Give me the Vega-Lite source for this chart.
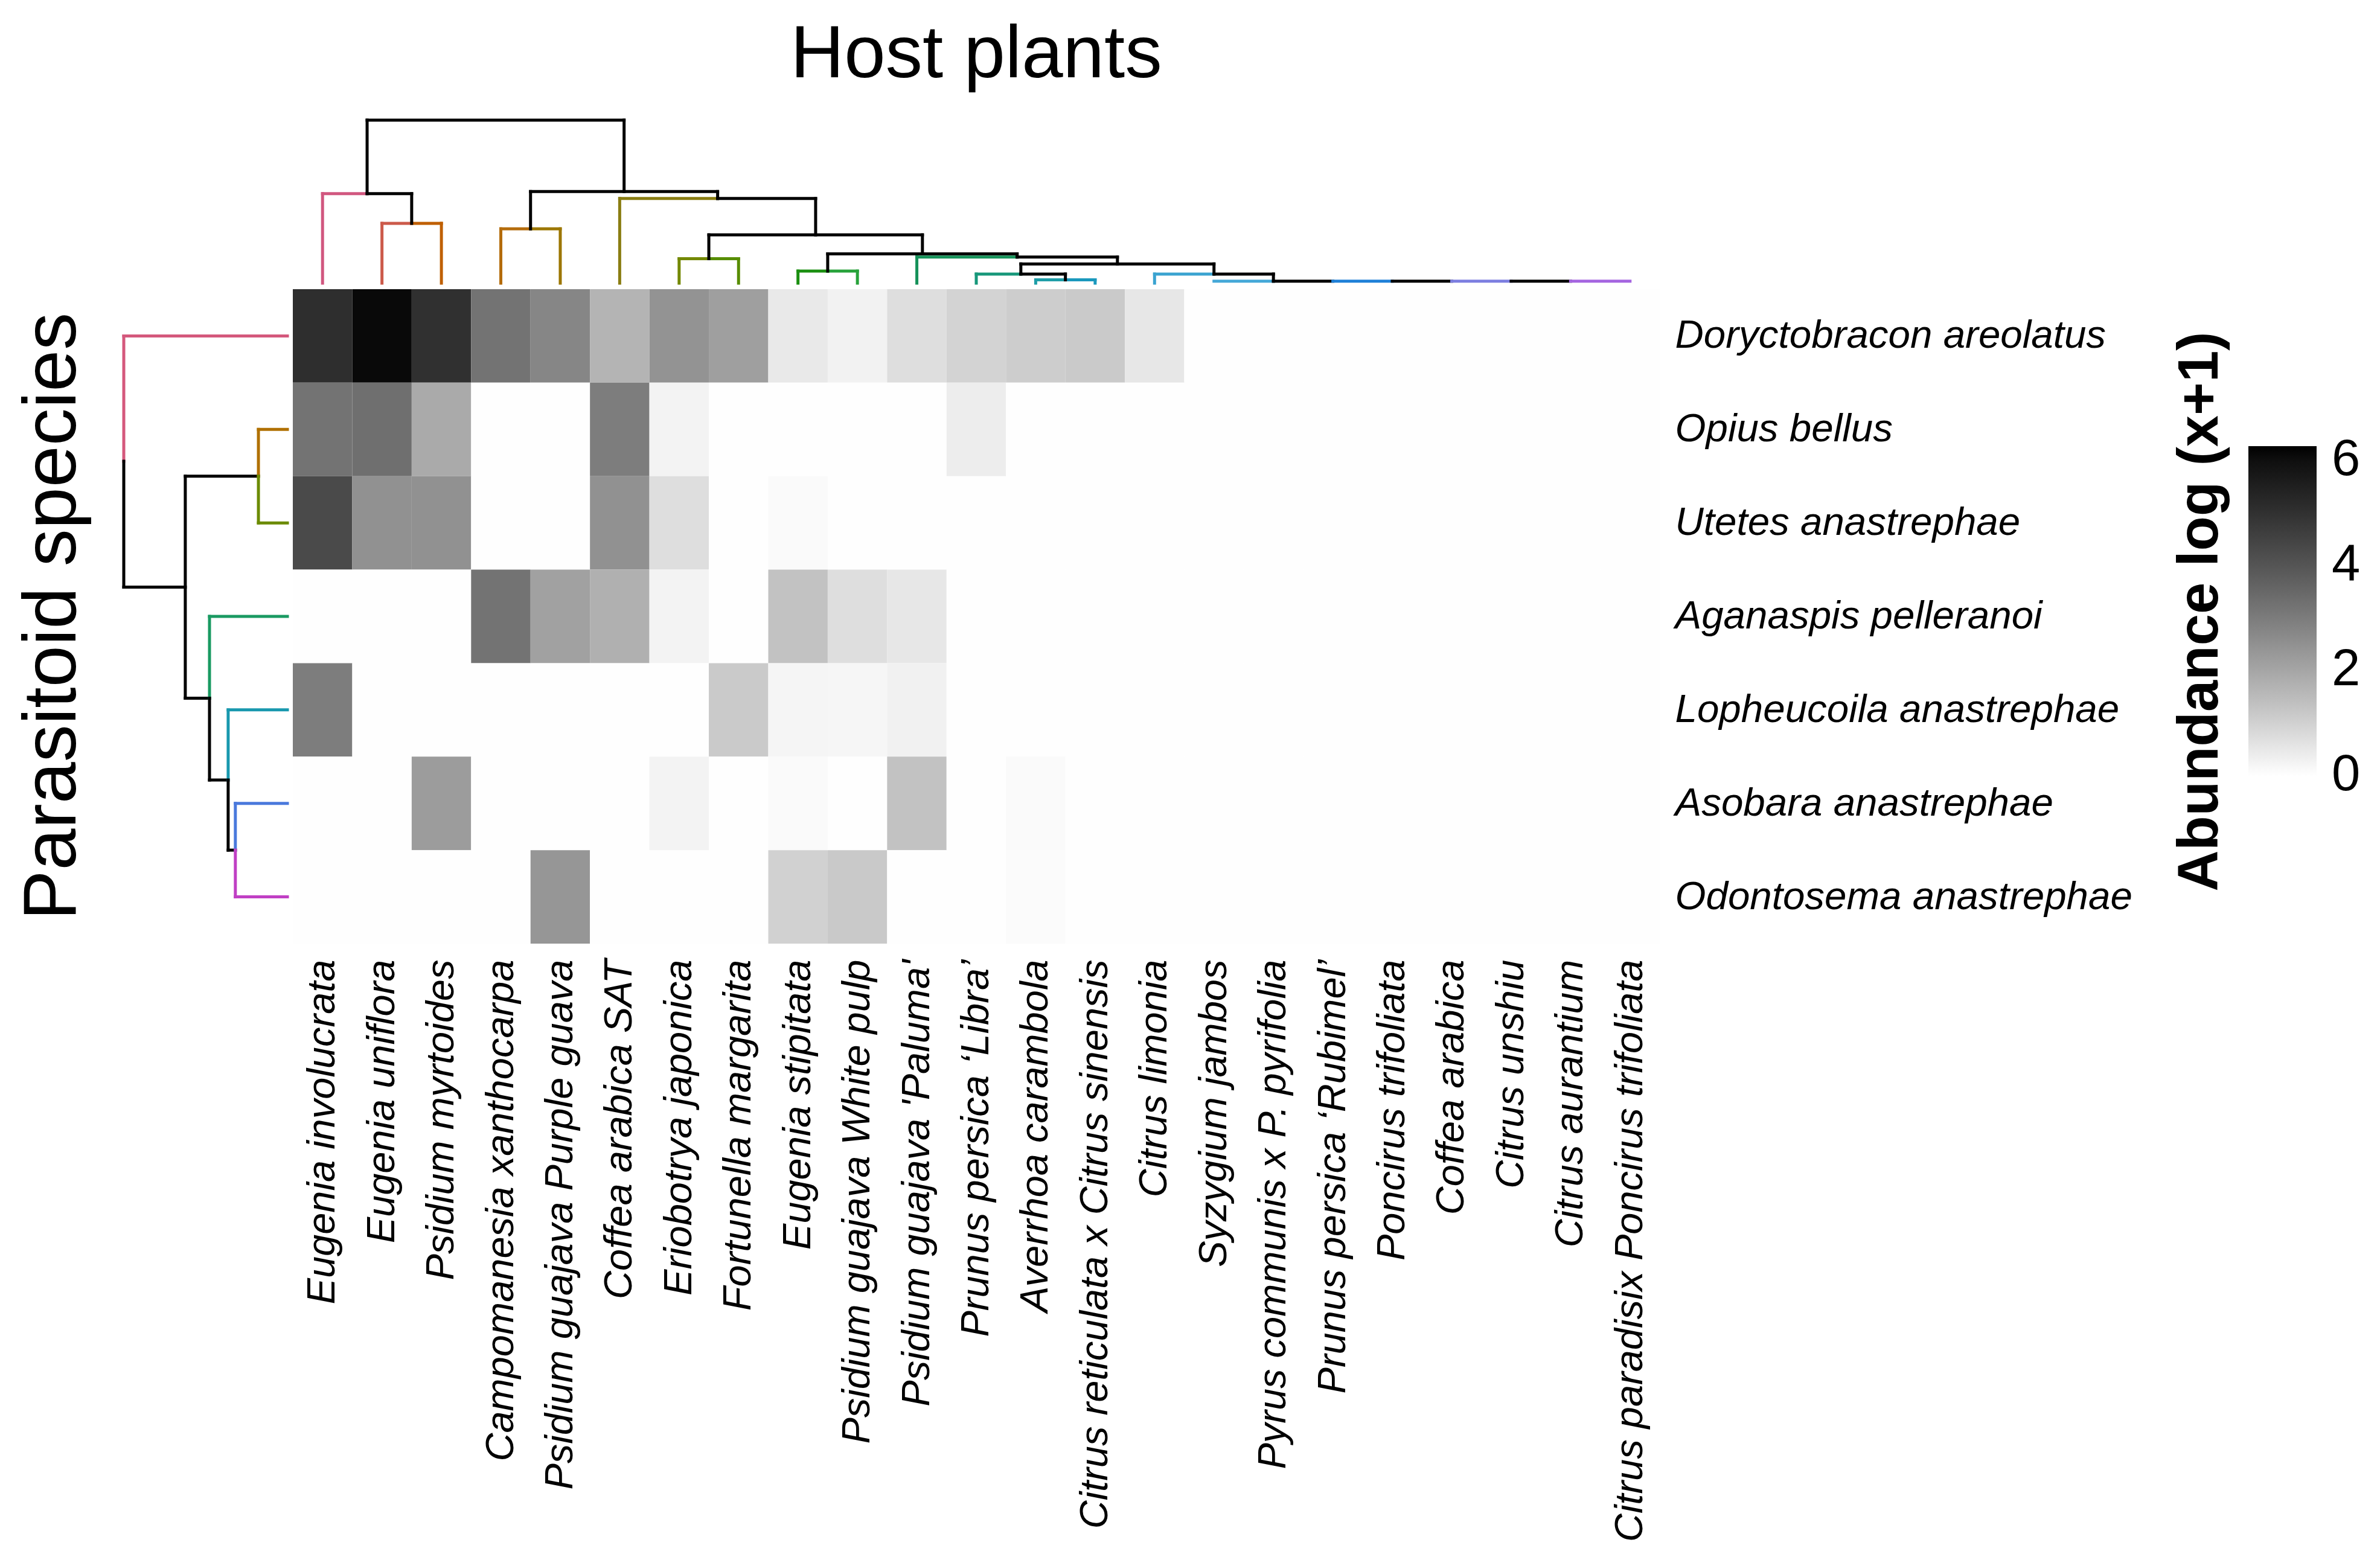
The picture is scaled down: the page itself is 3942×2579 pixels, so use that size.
{
  "$schema": "https://vega.github.io/schema/vega-lite/v6.json",
  "padding": {"left": 26, "top": 30, "right": 10, "bottom": 10},
  "background": "white",
  "config": {"view": {"stroke": null}, "font": "Liberation Sans"},
  "columns": 2,
  "spacing": {"row": 10, "column": 9},
  "bounds": "flush",
  "resolve": {"scale": {"color": "independent", "x": "independent", "y": "independent"}, "legend": {"color": "independent"}},
  "concat": [
    {
      "width": 271, "height": 270,
      "data": {"values": []},
      "mark": "point"
    },
    {
      "width": 2264, "height": 270,
      "title": {"text": "Host plants", "fontSize": 123, "font": "Liberation Sans", "fontWeight": "normal", "anchor": "middle", "offset": 41, "color": "black"},
      "data": {"values": [
        {"pos": 1.25, "pos2": 5.574, "h": 1, "h2": 1, "cluster": "joined"},
        {"pos": 0.5, "pos2": 1.25, "h": 0.549, "h2": 0.549, "cluster": "Eugenia involucrata"},
        {"pos": 1.25, "pos2": 2, "h": 0.549, "h2": 0.549, "cluster": "joined"},
        {"pos": 1.5, "pos2": 2, "h": 0.367, "h2": 0.367, "cluster": "Eugenia uniflora"},
        {"pos": 2, "pos2": 2.5, "h": 0.367, "h2": 0.367, "cluster": "Psidium myrtoides"},
        {"pos": 4, "pos2": 7.148, "h": 0.562, "h2": 0.562, "cluster": "joined"},
        {"pos": 3.5, "pos2": 4, "h": 0.333, "h2": 0.333, "cluster": "Campomanesia xanthocarpa"},
        {"pos": 4, "pos2": 4.5, "h": 0.333, "h2": 0.333, "cluster": "Psidium guajava Purple guava"},
        {"pos": 5.5, "pos2": 7.148, "h": 0.519, "h2": 0.519, "cluster": "Coffea arabica SAT"},
        {"pos": 7.148, "pos2": 8.797, "h": 0.519, "h2": 0.519, "cluster": "joined"},
        {"pos": 7, "pos2": 10.594, "h": 0.296, "h2": 0.296, "cluster": "joined"},
        {"pos": 6.5, "pos2": 7, "h": 0.15, "h2": 0.15, "cluster": "Eriobotrya japonica"},
        {"pos": 7, "pos2": 7.5, "h": 0.15, "h2": 0.15, "cluster": "Fortunella margarita"},
        {"pos": 9, "pos2": 12.1875, "h": 0.18, "h2": 0.18, "cluster": "joined"},
        {"pos": 8.5, "pos2": 9, "h": 0.074, "h2": 0.074, "cluster": "Eugenia stipitata"},
        {"pos": 9, "pos2": 9.5, "h": 0.074, "h2": 0.074, "cluster": "Psidium guajava White pulp"},
        {"pos": 10.5, "pos2": 12.1875, "h": 0.16, "h2": 0.16, "cluster": "Psidium guajava 'Paluma'"},
        {"pos": 12.1875, "pos2": 13.875, "h": 0.16, "h2": 0.16, "cluster": "joined"},
        {"pos": 12.25, "pos2": 15.5, "h": 0.118, "h2": 0.118, "cluster": "joined"},
        {"pos": 11.5, "pos2": 12.25, "h": 0.056, "h2": 0.056, "cluster": "Prunus persica ‘Libra’"},
        {"pos": 12.25, "pos2": 13, "h": 0.056, "h2": 0.056, "cluster": "joined"},
        {"pos": 12.5, "pos2": 13, "h": 0.02, "h2": 0.02, "cluster": "Averrhoa carambola"},
        {"pos": 13, "pos2": 13.5, "h": 0.02, "h2": 0.02, "cluster": "Citrus reticulata x Citrus sinensis"},
        {"pos": 14.5, "pos2": 15.5, "h": 0.056, "h2": 0.056, "cluster": "Citrus limonia"},
        {"pos": 15.5, "pos2": 16.5, "h": 0.056, "h2": 0.056, "cluster": "joined"},
        {"pos": 15.5, "pos2": 16.5, "h": 0.012, "h2": 0.012, "cluster": "Syzygium jambos"},
        {"pos": 16.5, "pos2": 17.5, "h": 0.012, "h2": 0.012, "cluster": "joined"},
        {"pos": 17.5, "pos2": 18.5, "h": 0.012, "h2": 0.012, "cluster": "Prunus persica ‘Rubimel’"},
        {"pos": 18.5, "pos2": 19.5, "h": 0.012, "h2": 0.012, "cluster": "joined"},
        {"pos": 19.5, "pos2": 20.5, "h": 0.012, "h2": 0.012, "cluster": "Citrus unshiu"},
        {"pos": 20.5, "pos2": 21.5, "h": 0.012, "h2": 0.012, "cluster": "joined"},
        {"pos": 21.5, "pos2": 22.5, "h": 0.012, "h2": 0.012, "cluster": "Citrus paradisix Poncirus trifoliata"},
        {"pos": 1.25, "pos2": 1.25, "h": 0.549, "h2": 1, "cluster": "joined"},
        {"pos": 5.574, "pos2": 5.574, "h": 0.562, "h2": 1, "cluster": "joined"},
        {"pos": 0.5, "pos2": 0.5, "h": 0, "h2": 0.549, "cluster": "Eugenia involucrata"},
        {"pos": 2, "pos2": 2, "h": 0.367, "h2": 0.549, "cluster": "joined"},
        {"pos": 1.5, "pos2": 1.5, "h": 0, "h2": 0.367, "cluster": "Eugenia uniflora"},
        {"pos": 2.5, "pos2": 2.5, "h": 0, "h2": 0.367, "cluster": "Psidium myrtoides"},
        {"pos": 4, "pos2": 4, "h": 0.333, "h2": 0.562, "cluster": "joined"},
        {"pos": 7.148, "pos2": 7.148, "h": 0.519, "h2": 0.562, "cluster": "joined"},
        {"pos": 3.5, "pos2": 3.5, "h": 0, "h2": 0.333, "cluster": "Campomanesia xanthocarpa"},
        {"pos": 4.5, "pos2": 4.5, "h": 0, "h2": 0.333, "cluster": "Psidium guajava Purple guava"},
        {"pos": 5.5, "pos2": 5.5, "h": 0, "h2": 0.519, "cluster": "Coffea arabica SAT"},
        {"pos": 8.797, "pos2": 8.797, "h": 0.296, "h2": 0.519, "cluster": "joined"},
        {"pos": 7, "pos2": 7, "h": 0.15, "h2": 0.296, "cluster": "joined"},
        {"pos": 10.594, "pos2": 10.594, "h": 0.18, "h2": 0.296, "cluster": "joined"},
        {"pos": 6.5, "pos2": 6.5, "h": 0, "h2": 0.15, "cluster": "Eriobotrya japonica"},
        {"pos": 7.5, "pos2": 7.5, "h": 0, "h2": 0.15, "cluster": "Fortunella margarita"},
        {"pos": 9, "pos2": 9, "h": 0.074, "h2": 0.18, "cluster": "joined"},
        {"pos": 12.1875, "pos2": 12.1875, "h": 0.16, "h2": 0.18, "cluster": "joined"},
        {"pos": 8.5, "pos2": 8.5, "h": 0, "h2": 0.074, "cluster": "Eugenia stipitata"},
        {"pos": 9.5, "pos2": 9.5, "h": 0, "h2": 0.074, "cluster": "Psidium guajava White pulp"},
        {"pos": 10.5, "pos2": 10.5, "h": 0, "h2": 0.16, "cluster": "Psidium guajava 'Paluma'"},
        {"pos": 13.875, "pos2": 13.875, "h": 0.118, "h2": 0.16, "cluster": "joined"},
        {"pos": 12.25, "pos2": 12.25, "h": 0.056, "h2": 0.118, "cluster": "joined"},
        {"pos": 15.5, "pos2": 15.5, "h": 0.056, "h2": 0.118, "cluster": "joined"},
        {"pos": 11.5, "pos2": 11.5, "h": 0, "h2": 0.056, "cluster": "Prunus persica ‘Libra’"},
        {"pos": 13, "pos2": 13, "h": 0.02, "h2": 0.056, "cluster": "joined"},
        {"pos": 12.5, "pos2": 12.5, "h": 0, "h2": 0.02, "cluster": "Averrhoa carambola"},
        {"pos": 13.5, "pos2": 13.5, "h": 0, "h2": 0.02, "cluster": "Citrus reticulata x Citrus sinensis"},
        {"pos": 14.5, "pos2": 14.5, "h": 0, "h2": 0.056, "cluster": "Citrus limonia"},
        {"pos": 16.5, "pos2": 16.5, "h": 0.012, "h2": 0.056, "cluster": "joined"}
      ]},
      "mark": {"type": "rule", "strokeWidth": 5, "strokeCap": "square"},
      "encoding": {
        "x": {"field": "pos", "type": "quantitative", "scale": {"domain": [0, 23], "nice": false, "zero": false}, "axis": null},
        "x2": {"field": "pos2"},
        "y": {"field": "h", "type": "quantitative", "scale": {"domain": [0, 1], "nice": false}, "axis": null},
        "y2": {"field": "h2"},
        "color": {"field": "cluster", "type": "nominal", "legend": null, "scale": {
          "domain": ["joined", "Eugenia involucrata", "Eugenia uniflora", "Psidium myrtoides", "Campomanesia xanthocarpa", "Psidium guajava Purple guava", "Coffea arabica SAT", "Eriobotrya japonica", "Fortunella margarita", "Eugenia stipitata", "Psidium guajava White pulp", "Psidium guajava 'Paluma'", "Prunus persica ‘Libra’", "Averrhoa carambola", "Citrus reticulata x Citrus sinensis", "Citrus limonia", "Syzygium jambos", "Prunus persica ‘Rubimel’", "Citrus unshiu", "Citrus paradisix Poncirus trifoliata"],
          "range": ["#000000", "#d1577f", "#cc5a4a", "#bf5f00", "#b46c0c", "#9c7600", "#8a7d12", "#738800", "#578d00", "#1a8f10", "#27a23a", "#16925a", "#17977a", "#1f9ea8", "#1a98bd", "#3aa3d0", "#45a8d8", "#1f80d8", "#7c7ee0", "#a565e0"]}}
      }
    },
    {
      "width": 271, "height": 1084,
      "title": {"text": "Parasitoid species", "orient": "left", "fontSize": 124, "font": "Liberation Sans", "fontWeight": "normal", "anchor": "middle", "offset": 50, "color": "black"},
      "data": {"values": [
        {"h": 0, "h2": 1, "pos": 0.5, "pos2": 0.5, "cluster": "Doryctobracon areolatus"},
        {"h": 0.624, "h2": 1, "pos": 3.1875, "pos2": 3.1875, "cluster": "joined"},
        {"h": 0.177, "h2": 0.624, "pos": 2, "pos2": 2, "cluster": "joined"},
        {"h": 0.476, "h2": 0.624, "pos": 4.375, "pos2": 4.375, "cluster": "joined"},
        {"h": 0, "h2": 0.177, "pos": 1.5, "pos2": 1.5, "cluster": "Opius bellus"},
        {"h": 0, "h2": 0.177, "pos": 2.5, "pos2": 2.5, "cluster": "Utetes anastrephae"},
        {"h": 0, "h2": 0.476, "pos": 3.5, "pos2": 3.5, "cluster": "Aganaspis pelleranoi"},
        {"h": 0.362, "h2": 0.476, "pos": 5.25, "pos2": 5.25, "cluster": "joined"},
        {"h": 0, "h2": 0.362, "pos": 4.5, "pos2": 4.5, "cluster": "Lopheucoila anastrephae"},
        {"h": 0.318, "h2": 0.362, "pos": 6, "pos2": 6, "cluster": "joined"},
        {"h": 0, "h2": 0.318, "pos": 5.5, "pos2": 5.5, "cluster": "Asobara anastrephae"},
        {"h": 0, "h2": 0.318, "pos": 6.5, "pos2": 6.5, "cluster": "Odontosema anastrephae"},
        {"h": 1, "h2": 1, "pos": 0.5, "pos2": 1.84, "cluster": "Doryctobracon areolatus"},
        {"h": 1, "h2": 1, "pos": 1.84, "pos2": 3.1875, "cluster": "joined"},
        {"h": 0.624, "h2": 0.624, "pos": 2, "pos2": 4.375, "cluster": "joined"},
        {"h": 0.177, "h2": 0.177, "pos": 1.5, "pos2": 2, "cluster": "Opius bellus"},
        {"h": 0.177, "h2": 0.177, "pos": 2, "pos2": 2.5, "cluster": "Utetes anastrephae"},
        {"h": 0.476, "h2": 0.476, "pos": 3.5, "pos2": 4.375, "cluster": "Aganaspis pelleranoi"},
        {"h": 0.476, "h2": 0.476, "pos": 4.375, "pos2": 5.25, "cluster": "joined"},
        {"h": 0.362, "h2": 0.362, "pos": 4.5, "pos2": 5.25, "cluster": "Lopheucoila anastrephae"},
        {"h": 0.362, "h2": 0.362, "pos": 5.25, "pos2": 6, "cluster": "joined"},
        {"h": 0.318, "h2": 0.318, "pos": 5.5, "pos2": 6, "cluster": "Asobara anastrephae"},
        {"h": 0.318, "h2": 0.318, "pos": 6, "pos2": 6.5, "cluster": "Odontosema anastrephae"}
      ]},
      "mark": {"type": "rule", "strokeWidth": 5, "strokeCap": "square"},
      "encoding": {
        "x": {"field": "h", "type": "quantitative", "scale": {"domain": [0, 1], "nice": false, "reverse": true}, "axis": null},
        "x2": {"field": "h2"},
        "y": {"field": "pos", "type": "quantitative", "scale": {"domain": [0, 7], "nice": false, "zero": false, "reverse": true}, "axis": null},
        "y2": {"field": "pos2"},
        "color": {"field": "cluster", "type": "nominal", "legend": null, "scale": {
          "domain": ["joined", "Doryctobracon areolatus", "Opius bellus", "Utetes anastrephae", "Aganaspis pelleranoi", "Lopheucoila anastrephae", "Asobara anastrephae", "Odontosema anastrephae"],
          "range": ["#000000", "#d4587c", "#b07000", "#6b8b00", "#1a9a62", "#1898ae", "#4a79dc", "#c03fc4"]}}
      }
    },
    {
      "width": 2264, "height": 1084,
      "data": {"values": [
        {"host": "Eugenia involucrata", "species": "Doryctobracon areolatus", "abundance": 5.05},
        {"host": "Eugenia uniflora", "species": "Doryctobracon areolatus", "abundance": 6.1},
        {"host": "Psidium myrtoides", "species": "Doryctobracon areolatus", "abundance": 5.0},
        {"host": "Campomanesia xanthocarpa", "species": "Doryctobracon areolatus", "abundance": 3.22},
        {"host": "Psidium guajava Purple guava", "species": "Doryctobracon areolatus", "abundance": 2.73},
        {"host": "Coffea arabica SAT", "species": "Doryctobracon areolatus", "abundance": 1.65},
        {"host": "Eriobotrya japonica", "species": "Doryctobracon areolatus", "abundance": 2.42},
        {"host": "Fortunella margarita", "species": "Doryctobracon areolatus", "abundance": 2.13},
        {"host": "Eugenia stipitata", "species": "Doryctobracon areolatus", "abundance": 0.45},
        {"host": "Psidium guajava White pulp", "species": "Doryctobracon areolatus", "abundance": 0.25},
        {"host": "Psidium guajava 'Paluma'", "species": "Doryctobracon areolatus", "abundance": 0.7},
        {"host": "Prunus persica ‘Libra’", "species": "Doryctobracon areolatus", "abundance": 0.95},
        {"host": "Averrhoa carambola", "species": "Doryctobracon areolatus", "abundance": 1.08},
        {"host": "Citrus reticulata x Citrus sinensis", "species": "Doryctobracon areolatus", "abundance": 1.15},
        {"host": "Citrus limonia", "species": "Doryctobracon areolatus", "abundance": 0.5},
        {"host": "Syzygium jambos", "species": "Doryctobracon areolatus", "abundance": 0},
        {"host": "Pyrus communis x P. pyrifolia", "species": "Doryctobracon areolatus", "abundance": 0},
        {"host": "Prunus persica ‘Rubimel’", "species": "Doryctobracon areolatus", "abundance": 0},
        {"host": "Poncirus trifoliata", "species": "Doryctobracon areolatus", "abundance": 0},
        {"host": "Coffea arabica", "species": "Doryctobracon areolatus", "abundance": 0},
        {"host": "Citrus unshiu", "species": "Doryctobracon areolatus", "abundance": 0},
        {"host": "Citrus aurantium", "species": "Doryctobracon areolatus", "abundance": 0},
        {"host": "Citrus paradisix Poncirus trifoliata", "species": "Doryctobracon areolatus", "abundance": 0},
        {"host": "Eugenia involucrata", "species": "Opius bellus", "abundance": 3.22},
        {"host": "Eugenia uniflora", "species": "Opius bellus", "abundance": 3.3},
        {"host": "Psidium myrtoides", "species": "Opius bellus", "abundance": 1.87},
        {"host": "Campomanesia xanthocarpa", "species": "Opius bellus", "abundance": 0},
        {"host": "Psidium guajava Purple guava", "species": "Opius bellus", "abundance": 0},
        {"host": "Coffea arabica SAT", "species": "Opius bellus", "abundance": 2.95},
        {"host": "Eriobotrya japonica", "species": "Opius bellus", "abundance": 0.23},
        {"host": "Fortunella margarita", "species": "Opius bellus", "abundance": 0},
        {"host": "Eugenia stipitata", "species": "Opius bellus", "abundance": 0},
        {"host": "Psidium guajava White pulp", "species": "Opius bellus", "abundance": 0},
        {"host": "Psidium guajava 'Paluma'", "species": "Opius bellus", "abundance": 0},
        {"host": "Prunus persica ‘Libra’", "species": "Opius bellus", "abundance": 0.37},
        {"host": "Averrhoa carambola", "species": "Opius bellus", "abundance": 0},
        {"host": "Citrus reticulata x Citrus sinensis", "species": "Opius bellus", "abundance": 0},
        {"host": "Citrus limonia", "species": "Opius bellus", "abundance": 0},
        {"host": "Syzygium jambos", "species": "Opius bellus", "abundance": 0},
        {"host": "Pyrus communis x P. pyrifolia", "species": "Opius bellus", "abundance": 0},
        {"host": "Prunus persica ‘Rubimel’", "species": "Opius bellus", "abundance": 0},
        {"host": "Poncirus trifoliata", "species": "Opius bellus", "abundance": 0},
        {"host": "Coffea arabica", "species": "Opius bellus", "abundance": 0},
        {"host": "Citrus unshiu", "species": "Opius bellus", "abundance": 0},
        {"host": "Citrus aurantium", "species": "Opius bellus", "abundance": 0},
        {"host": "Citrus paradisix Poncirus trifoliata", "species": "Opius bellus", "abundance": 0},
        {"host": "Eugenia involucrata", "species": "Utetes anastrephae", "abundance": 4.28},
        {"host": "Eugenia uniflora", "species": "Utetes anastrephae", "abundance": 2.48},
        {"host": "Psidium myrtoides", "species": "Utetes anastrephae", "abundance": 2.48},
        {"host": "Campomanesia xanthocarpa", "species": "Utetes anastrephae", "abundance": 0},
        {"host": "Psidium guajava Purple guava", "species": "Utetes anastrephae", "abundance": 0},
        {"host": "Coffea arabica SAT", "species": "Utetes anastrephae", "abundance": 2.48},
        {"host": "Eriobotrya japonica", "species": "Utetes anastrephae", "abundance": 0.69},
        {"host": "Fortunella margarita", "species": "Utetes anastrephae", "abundance": 0},
        {"host": "Eugenia stipitata", "species": "Utetes anastrephae", "abundance": 0.08},
        {"host": "Psidium guajava White pulp", "species": "Utetes anastrephae", "abundance": 0},
        {"host": "Psidium guajava 'Paluma'", "species": "Utetes anastrephae", "abundance": 0},
        {"host": "Prunus persica ‘Libra’", "species": "Utetes anastrephae", "abundance": 0},
        {"host": "Averrhoa carambola", "species": "Utetes anastrephae", "abundance": 0},
        {"host": "Citrus reticulata x Citrus sinensis", "species": "Utetes anastrephae", "abundance": 0},
        {"host": "Citrus limonia", "species": "Utetes anastrephae", "abundance": 0},
        {"host": "Syzygium jambos", "species": "Utetes anastrephae", "abundance": 0},
        {"host": "Pyrus communis x P. pyrifolia", "species": "Utetes anastrephae", "abundance": 0},
        {"host": "Prunus persica ‘Rubimel’", "species": "Utetes anastrephae", "abundance": 0},
        {"host": "Poncirus trifoliata", "species": "Utetes anastrephae", "abundance": 0},
        {"host": "Coffea arabica", "species": "Utetes anastrephae", "abundance": 0},
        {"host": "Citrus unshiu", "species": "Utetes anastrephae", "abundance": 0},
        {"host": "Citrus aurantium", "species": "Utetes anastrephae", "abundance": 0},
        {"host": "Citrus paradisix Poncirus trifoliata", "species": "Utetes anastrephae", "abundance": 0},
        {"host": "Eugenia involucrata", "species": "Aganaspis pelleranoi", "abundance": 0},
        {"host": "Eugenia uniflora", "species": "Aganaspis pelleranoi", "abundance": 0},
        {"host": "Psidium myrtoides", "species": "Aganaspis pelleranoi", "abundance": 0},
        {"host": "Campomanesia xanthocarpa", "species": "Aganaspis pelleranoi", "abundance": 3.22},
        {"host": "Psidium guajava Purple guava", "species": "Aganaspis pelleranoi", "abundance": 2.08},
        {"host": "Coffea arabica SAT", "species": "Aganaspis pelleranoi", "abundance": 1.74},
        {"host": "Eriobotrya japonica", "species": "Aganaspis pelleranoi", "abundance": 0.23},
        {"host": "Fortunella margarita", "species": "Aganaspis pelleranoi", "abundance": 0},
        {"host": "Eugenia stipitata", "species": "Aganaspis pelleranoi", "abundance": 1.33},
        {"host": "Psidium guajava White pulp", "species": "Aganaspis pelleranoi", "abundance": 0.7},
        {"host": "Psidium guajava 'Paluma'", "species": "Aganaspis pelleranoi", "abundance": 0.5},
        {"host": "Prunus persica ‘Libra’", "species": "Aganaspis pelleranoi", "abundance": 0},
        {"host": "Averrhoa carambola", "species": "Aganaspis pelleranoi", "abundance": 0},
        {"host": "Citrus reticulata x Citrus sinensis", "species": "Aganaspis pelleranoi", "abundance": 0},
        {"host": "Citrus limonia", "species": "Aganaspis pelleranoi", "abundance": 0},
        {"host": "Syzygium jambos", "species": "Aganaspis pelleranoi", "abundance": 0},
        {"host": "Pyrus communis x P. pyrifolia", "species": "Aganaspis pelleranoi", "abundance": 0},
        {"host": "Prunus persica ‘Rubimel’", "species": "Aganaspis pelleranoi", "abundance": 0},
        {"host": "Poncirus trifoliata", "species": "Aganaspis pelleranoi", "abundance": 0},
        {"host": "Coffea arabica", "species": "Aganaspis pelleranoi", "abundance": 0},
        {"host": "Citrus unshiu", "species": "Aganaspis pelleranoi", "abundance": 0},
        {"host": "Citrus aurantium", "species": "Aganaspis pelleranoi", "abundance": 0},
        {"host": "Citrus paradisix Poncirus trifoliata", "species": "Aganaspis pelleranoi", "abundance": 0},
        {"host": "Eugenia involucrata", "species": "Lopheucoila anastrephae", "abundance": 2.95},
        {"host": "Eugenia uniflora", "species": "Lopheucoila anastrephae", "abundance": 0},
        {"host": "Psidium myrtoides", "species": "Lopheucoila anastrephae", "abundance": 0},
        {"host": "Campomanesia xanthocarpa", "species": "Lopheucoila anastrephae", "abundance": 0},
        {"host": "Psidium guajava Purple guava", "species": "Lopheucoila anastrephae", "abundance": 0},
        {"host": "Coffea arabica SAT", "species": "Lopheucoila anastrephae", "abundance": 0},
        {"host": "Eriobotrya japonica", "species": "Lopheucoila anastrephae", "abundance": 0},
        {"host": "Fortunella margarita", "species": "Lopheucoila anastrephae", "abundance": 1.15},
        {"host": "Eugenia stipitata", "species": "Lopheucoila anastrephae", "abundance": 0.19},
        {"host": "Psidium guajava White pulp", "species": "Lopheucoila anastrephae", "abundance": 0.17},
        {"host": "Psidium guajava 'Paluma'", "species": "Lopheucoila anastrephae", "abundance": 0.27},
        {"host": "Prunus persica ‘Libra’", "species": "Lopheucoila anastrephae", "abundance": 0},
        {"host": "Averrhoa carambola", "species": "Lopheucoila anastrephae", "abundance": 0},
        {"host": "Citrus reticulata x Citrus sinensis", "species": "Lopheucoila anastrephae", "abundance": 0},
        {"host": "Citrus limonia", "species": "Lopheucoila anastrephae", "abundance": 0},
        {"host": "Syzygium jambos", "species": "Lopheucoila anastrephae", "abundance": 0},
        {"host": "Pyrus communis x P. pyrifolia", "species": "Lopheucoila anastrephae", "abundance": 0},
        {"host": "Prunus persica ‘Rubimel’", "species": "Lopheucoila anastrephae", "abundance": 0},
        {"host": "Poncirus trifoliata", "species": "Lopheucoila anastrephae", "abundance": 0},
        {"host": "Coffea arabica", "species": "Lopheucoila anastrephae", "abundance": 0},
        {"host": "Citrus unshiu", "species": "Lopheucoila anastrephae", "abundance": 0},
        {"host": "Citrus aurantium", "species": "Lopheucoila anastrephae", "abundance": 0},
        {"host": "Citrus paradisix Poncirus trifoliata", "species": "Lopheucoila anastrephae", "abundance": 0},
        {"host": "Eugenia involucrata", "species": "Asobara anastrephae", "abundance": 0},
        {"host": "Eugenia uniflora", "species": "Asobara anastrephae", "abundance": 0},
        {"host": "Psidium myrtoides", "species": "Asobara anastrephae", "abundance": 2.2},
        {"host": "Campomanesia xanthocarpa", "species": "Asobara anastrephae", "abundance": 0},
        {"host": "Psidium guajava Purple guava", "species": "Asobara anastrephae", "abundance": 0},
        {"host": "Coffea arabica SAT", "species": "Asobara anastrephae", "abundance": 0},
        {"host": "Eriobotrya japonica", "species": "Asobara anastrephae", "abundance": 0.23},
        {"host": "Fortunella margarita", "species": "Asobara anastrephae", "abundance": 0},
        {"host": "Eugenia stipitata", "species": "Asobara anastrephae", "abundance": 0.08},
        {"host": "Psidium guajava White pulp", "species": "Asobara anastrephae", "abundance": 0},
        {"host": "Psidium guajava 'Paluma'", "species": "Asobara anastrephae", "abundance": 1.33},
        {"host": "Prunus persica ‘Libra’", "species": "Asobara anastrephae", "abundance": 0},
        {"host": "Averrhoa carambola", "species": "Asobara anastrephae", "abundance": 0.08},
        {"host": "Citrus reticulata x Citrus sinensis", "species": "Asobara anastrephae", "abundance": 0},
        {"host": "Citrus limonia", "species": "Asobara anastrephae", "abundance": 0},
        {"host": "Syzygium jambos", "species": "Asobara anastrephae", "abundance": 0},
        {"host": "Pyrus communis x P. pyrifolia", "species": "Asobara anastrephae", "abundance": 0},
        {"host": "Prunus persica ‘Rubimel’", "species": "Asobara anastrephae", "abundance": 0},
        {"host": "Poncirus trifoliata", "species": "Asobara anastrephae", "abundance": 0},
        {"host": "Coffea arabica", "species": "Asobara anastrephae", "abundance": 0},
        {"host": "Citrus unshiu", "species": "Asobara anastrephae", "abundance": 0},
        {"host": "Citrus aurantium", "species": "Asobara anastrephae", "abundance": 0},
        {"host": "Citrus paradisix Poncirus trifoliata", "species": "Asobara anastrephae", "abundance": 0},
        {"host": "Eugenia involucrata", "species": "Odontosema anastrephae", "abundance": 0},
        {"host": "Eugenia uniflora", "species": "Odontosema anastrephae", "abundance": 0},
        {"host": "Psidium myrtoides", "species": "Odontosema anastrephae", "abundance": 0},
        {"host": "Campomanesia xanthocarpa", "species": "Odontosema anastrephae", "abundance": 0},
        {"host": "Psidium guajava Purple guava", "species": "Odontosema anastrephae", "abundance": 2.35},
        {"host": "Coffea arabica SAT", "species": "Odontosema anastrephae", "abundance": 0},
        {"host": "Eriobotrya japonica", "species": "Odontosema anastrephae", "abundance": 0},
        {"host": "Fortunella margarita", "species": "Odontosema anastrephae", "abundance": 0},
        {"host": "Eugenia stipitata", "species": "Odontosema anastrephae", "abundance": 0.98},
        {"host": "Psidium guajava White pulp", "species": "Odontosema anastrephae", "abundance": 1.17},
        {"host": "Psidium guajava 'Paluma'", "species": "Odontosema anastrephae", "abundance": 0},
        {"host": "Prunus persica ‘Libra’", "species": "Odontosema anastrephae", "abundance": 0},
        {"host": "Averrhoa carambola", "species": "Odontosema anastrephae", "abundance": 0.06},
        {"host": "Citrus reticulata x Citrus sinensis", "species": "Odontosema anastrephae", "abundance": 0},
        {"host": "Citrus limonia", "species": "Odontosema anastrephae", "abundance": 0},
        {"host": "Syzygium jambos", "species": "Odontosema anastrephae", "abundance": 0},
        {"host": "Pyrus communis x P. pyrifolia", "species": "Odontosema anastrephae", "abundance": 0},
        {"host": "Prunus persica ‘Rubimel’", "species": "Odontosema anastrephae", "abundance": 0},
        {"host": "Poncirus trifoliata", "species": "Odontosema anastrephae", "abundance": 0},
        {"host": "Coffea arabica", "species": "Odontosema anastrephae", "abundance": 0},
        {"host": "Citrus unshiu", "species": "Odontosema anastrephae", "abundance": 0},
        {"host": "Citrus aurantium", "species": "Odontosema anastrephae", "abundance": 0},
        {"host": "Citrus paradisix Poncirus trifoliata", "species": "Odontosema anastrephae", "abundance": 0}
      ]},
      "mark": {"type": "rect", "strokeWidth": 0},
      "encoding": {
        "x": {"field": "host", "type": "nominal", "sort": null, "scale": {"paddingInner": 0, "paddingOuter": 0},
          "axis": {"orient": "bottom", "title": null, "labelAngle": 270, "labelFont": "Liberation Sans", "labelFontStyle": "italic", "labelFontSize": 65, "labelColor": "black", "labelPadding": 26, "ticks": false, "domain": false, "labelLimit": 0, "labelOverlap": false}},
        "y": {"field": "species", "type": "nominal", "sort": null, "scale": {"paddingInner": 0, "paddingOuter": 0},
          "axis": {"orient": "right", "title": null, "labelFont": "Liberation Sans", "labelFontStyle": "italic", "labelFontSize": 65.5, "labelColor": "black", "labelPadding": 25, "ticks": false, "domain": false, "labelLimit": 0, "labelOverlap": false}},
        "color": {"field": "abundance", "type": "quantitative",
          "scale": {"domain": [-0.03, 6.25], "range": ["#ffffff", "#000000"], "interpolate": "lab", "nice": false, "zero": false},
          "legend": {"orient": "none", "legendX": 3113, "legendY": 260, "title": "Abundance log (x+1)", "titleOrient": "left", "titleAnchor": "middle", "titleFont": "Liberation Sans", "titleFontSize": 94, "titleFontWeight": "bold", "titleColor": "black", "titlePadding": 30, "titleLimit": 0, "gradientLength": 547, "gradientThickness": 113, "gradientStrokeWidth": 0, "values": [0, 2, 4, 6], "format": "d", "labelFont": "Liberation Sans", "labelFontSize": 85, "labelColor": "black", "labelOffset": 25, "labelBaseline": "middle"}}
      }
    }
  ]
}
